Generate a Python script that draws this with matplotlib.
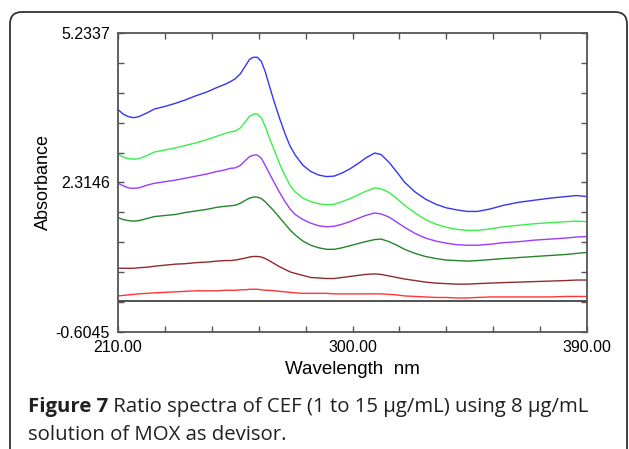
import numpy as np
import matplotlib
matplotlib.use("Agg")
import matplotlib.pyplot as plt
from matplotlib.patches import FancyBboxPatch

# ---------------- data ----------------
wavelength = [210, 212, 214, 216, 218, 221, 224, 228, 232, 236,
              240, 244, 248, 251, 253, 255, 257, 259, 260.5, 262,
              263.5, 265, 266.5, 268, 270, 272, 274, 276, 278, 281,
              284, 287, 290, 293, 296, 299, 302, 305, 308.5, 311,
              314, 317, 320, 324, 328, 332, 336, 340, 344, 348,
              353, 358, 364, 370, 376, 382, 386, 390]

blue = [3.74, 3.65, 3.60, 3.58, 3.60, 3.67, 3.75, 3.80, 3.86, 3.93,
        4.01, 4.08, 4.17, 4.23, 4.28, 4.34, 4.44, 4.60, 4.72, 4.76,
        4.76, 4.68, 4.48, 4.22, 3.88, 3.57, 3.28, 3.03, 2.85, 2.65,
        2.53, 2.46, 2.43, 2.44, 2.50, 2.58, 2.68, 2.79, 2.89, 2.86,
        2.71, 2.52, 2.32, 2.13, 1.99, 1.89, 1.82, 1.78, 1.75, 1.75,
        1.80, 1.87, 1.93, 1.97, 2.01, 2.04, 2.06, 2.04]
green = [2.87, 2.81, 2.78, 2.77, 2.78, 2.84, 2.91, 2.95, 2.99, 3.04,
         3.09, 3.15, 3.22, 3.27, 3.30, 3.32, 3.38, 3.51, 3.61, 3.65,
         3.65, 3.58, 3.41, 3.20, 2.94, 2.68, 2.46, 2.26, 2.13, 2.01,
         1.94, 1.90, 1.88, 1.89, 1.94, 2.00, 2.07, 2.14, 2.21, 2.19,
         2.12, 2.00, 1.87, 1.72, 1.59, 1.50, 1.44, 1.40, 1.38, 1.38,
         1.41, 1.45, 1.48, 1.51, 1.53, 1.55, 1.56, 1.55]
purple = [2.30, 2.25, 2.21, 2.20, 2.21, 2.26, 2.30, 2.33, 2.36, 2.40,
          2.44, 2.48, 2.53, 2.56, 2.59, 2.60, 2.65, 2.75, 2.82, 2.85,
          2.85, 2.79, 2.65, 2.50, 2.31, 2.12, 1.95, 1.80, 1.69, 1.59,
          1.52, 1.47, 1.45, 1.46, 1.50, 1.55, 1.61, 1.67, 1.72, 1.70,
          1.64, 1.54, 1.44, 1.32, 1.23, 1.17, 1.13, 1.10, 1.09, 1.09,
          1.11, 1.14, 1.16, 1.19, 1.21, 1.23, 1.25, 1.26]
darkgreen = [1.63, 1.59, 1.57, 1.56, 1.57, 1.61, 1.65, 1.67, 1.69, 1.73,
             1.76, 1.79, 1.83, 1.85, 1.86, 1.87, 1.91, 1.97, 2.01, 2.03,
             2.03, 2.00, 1.94, 1.86, 1.75, 1.63, 1.51, 1.39, 1.29, 1.17,
             1.09, 1.04, 1.01, 1.01, 1.04, 1.08, 1.12, 1.16, 1.20, 1.21,
             1.16, 1.09, 1.01, 0.93, 0.87, 0.83, 0.80, 0.79, 0.78, 0.79,
             0.81, 0.83, 0.85, 0.87, 0.89, 0.91, 0.93, 0.95]
brown = [0.64, 0.64, 0.64, 0.64, 0.65, 0.66, 0.68, 0.70, 0.72, 0.73,
         0.75, 0.76, 0.78, 0.79, 0.79, 0.80, 0.82, 0.84, 0.86, 0.87,
         0.87, 0.86, 0.83, 0.79, 0.73, 0.67, 0.62, 0.57, 0.54, 0.50,
         0.46, 0.45, 0.44, 0.44, 0.46, 0.48, 0.50, 0.52, 0.53, 0.52,
         0.49, 0.46, 0.43, 0.40, 0.37, 0.35, 0.34, 0.33, 0.33, 0.34,
         0.35, 0.36, 0.37, 0.38, 0.39, 0.40, 0.41, 0.41]
red = [0.10, 0.11, 0.12, 0.13, 0.14, 0.15, 0.16, 0.17, 0.18, 0.19,
       0.20, 0.20, 0.20, 0.21, 0.21, 0.21, 0.22, 0.22, 0.23, 0.23,
       0.23, 0.22, 0.21, 0.21, 0.20, 0.19, 0.18, 0.17, 0.16, 0.15,
       0.15, 0.15, 0.15, 0.14, 0.14, 0.14, 0.14, 0.14, 0.14, 0.14,
       0.13, 0.12, 0.10, 0.09, 0.08, 0.07, 0.07, 0.06, 0.06, 0.07,
       0.08, 0.08, 0.08, 0.08, 0.08, 0.09, 0.09, 0.09]
baseline_x = [210, 390]
baseline_y = [0.0, 0.0]

x_min, x_max = 210.0, 390.0
y_min, y_max = -0.6045, 5.2337
xtick_labels = ["210.00", "", "", "", "", "300.00", "", "", "", "", "390.00"]
ytick_labels = ["-0.6045", "", "", "", "", "2.3146", "", "", "", "", "5.2337"]

series = [
    (blue, "#3535f5"),
    (green, "#38f048"),
    (purple, "#9a3cff"),
    (darkgreen, "#25852a"),
    (brown, "#8e2c2c"),
    (red, "#ff3535"),
]

# ---------------- figure ----------------
W, H = 629, 449
fig = plt.figure(figsize=(W / 100, H / 100), dpi=100)
fig.patch.set_facecolor("white")

# overlay in pixel coordinates
ov = fig.add_axes([0, 0, 1, 1], zorder=0)
ov.set_xlim(0, W)
ov.set_ylim(H, 0)
ov.axis("off")
ov.patch.set_alpha(0)

border = FancyBboxPatch((10, 12), 617, 470,
                        boxstyle="round,pad=0,rounding_size=12",
                        fill=False, edgecolor="#333333", linewidth=1.3,
                        clip_on=False)
ov.add_patch(border)

# main plotting axes
L, R, T, B = 118, 587, 33, 332
ax = fig.add_axes([L / W, 1 - B / H, (R - L) / W, (B - T) / H], zorder=1)
ax.set_facecolor("white")

ax.plot(baseline_x, baseline_y, color="#222222", lw=1.1)
for vals, col in series:
    ax.plot(wavelength, vals, color=col, lw=1.0)

ax.set_xlim(x_min, x_max)
ax.set_ylim(y_min, y_max)
ax.set_xticks(np.linspace(x_min, x_max, len(xtick_labels)))
ax.set_xticklabels(xtick_labels)
ax.set_yticks(np.linspace(y_min, y_max, len(ytick_labels)))
ax.set_yticklabels(ytick_labels)

for lab in ax.get_xticklabels() + ax.get_yticklabels():
    lab.set_fontfamily("Liberation Sans")
    lab.set_fontsize(11.5)
ax.tick_params(direction="in", length=4, width=1.0, color="#555555",
               top=True, right=True, pad=6, labelcolor="black")
for sp in ax.spines.values():
    sp.set_color("#555555")
    sp.set_linewidth(1.3)

# axis titles
ov.text(352, 370, "Wavelength  nm", ha="center", va="center",
        family="Liberation Sans", fontsize=13.5, color="black")
ov.text(43, 182, "Absorbance", ha="center", va="center", rotation=90,
        family="Liberation Sans", fontsize=13, color="black")

# caption (bold part + regular part), fitted to width
cap_bold = "Figure 7"
cap_rest1 = " Ratio spectra of CEF (1 to 15 \u00b5g/mL) using 8 \u00b5g/mL"
cap_line2 = "solution of MOX as devisor."
cap_family = "Open Sans"
cap_color = "#231f20"
x0, target_w = 28, 559

renderer = fig.canvas.get_renderer()
def measure(fs):
    t1 = ov.text(0, 0, cap_bold, fontsize=fs, family=cap_family, weight="bold")
    t2 = ov.text(0, 0, cap_rest1, fontsize=fs, family=cap_family)
    w1 = t1.get_window_extent(renderer).width
    w2 = t2.get_window_extent(renderer).width
    t1.remove(); t2.remove()
    return w1, w2

fs0 = 13.0
w1, w2 = measure(fs0)
fs = fs0 * target_w / (w1 + w2)
w1, w2 = measure(fs)

ov.text(x0, 407, cap_bold, fontsize=fs, family=cap_family, weight="bold",
        ha="left", va="center", color=cap_color)
ov.text(x0 + w1, 407, cap_rest1, fontsize=fs, family=cap_family,
        ha="left", va="center", color=cap_color)
ov.text(x0, 435, cap_line2, fontsize=fs, family=cap_family,
        ha="left", va="center", color=cap_color)

fig.savefig("out.png", dpi=100, facecolor="white")
